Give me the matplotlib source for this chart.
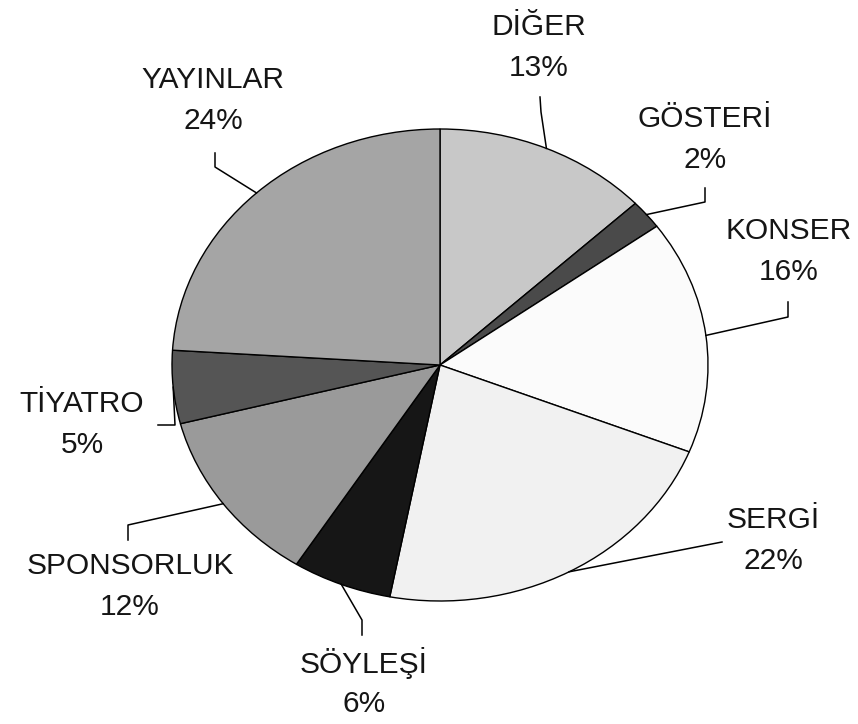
import numpy as np
import matplotlib.pyplot as plt

# Etkinlik türlerine göre dağılım (%)
etiketler = ["DİĞER", "GÖSTERİ", "KONSER", "SERGİ", "SÖYLEŞİ",
             "SPONSORLUK", "TİYATRO", "YAYINLAR"]
oranlar = [13, 2, 16, 22, 6, 12, 5, 24]
renkler = ["#c8c8c8", "#4a4a4a", "#fbfbfb", "#f1f1f1", "#161616",
           "#9a9a9a", "#555555", "#a5a5a5"]

# etiket konumları (piksel) ve bağlantı çizgisi kırılma noktaları
etiket_xy = [(539, 27), (705, 119), (789, 231), (773, 520), (364, 663),
             (130, 566), (82, 404), (213, 80)]
cizgi_noktalari = [
    [(541, 112), (540, 97)],
    [(705, 202), (705, 188)],
    [(788, 317), (788, 302)],
    [(722, 542)],
    [(362, 620), (362, 635)],
    [(128, 525), (128, 540)],
    [(175, 425), (158, 425)],
    [(215, 167), (215, 153)],
]

W, H = 858, 724
cx, cy, rx, ry = 440, 365, 268, 236

fig = plt.figure(figsize=(W / 100, H / 100), dpi=100)
fig.patch.set_facecolor("white")

# pasta eliptik görünsün diye eksen oranı serbest
ax = fig.add_axes([(cx - rx) / W, (H - cy - ry) / H, 2 * rx / W, 2 * ry / H])
ax.pie(oranlar, colors=renkler, startangle=90, counterclock=False, radius=1,
       wedgeprops=dict(edgecolor="black", linewidth=1.0))
ax.set_aspect("auto")
ax.set_xlim(-1, 1)
ax.set_ylim(-1, 1)
ax.axis("off")

# etiketler için piksel koordinatlı üst katman
ov = fig.add_axes([0, 0, 1, 1], facecolor="none")
ov.set_xlim(0, W)
ov.set_ylim(H, 0)
ov.axis("off")

kum = np.cumsum([0] + oranlar)
for i, (ad, v) in enumerate(zip(etiketler, oranlar)):
    orta = (kum[i] + kum[i + 1]) / 2 / sum(oranlar)
    aci = np.deg2rad(90 - 360 * orta)
    kx = cx + rx * np.cos(aci)
    ky = cy - ry * np.sin(aci)
    pts = [(kx, ky)] + cizgi_noktalari[i]
    ov.plot([p[0] for p in pts], [p[1] for p in pts], color="black", lw=1.1)
    tx, ty = etiket_xy[i]
    ov.text(tx, ty, ad, ha="center", va="center", fontsize=21.5,
            family="Liberation Sans", color="#151515")
    ov.text(tx, ty + 41, f"{v}%", ha="center", va="center", fontsize=21.5,
            family="Liberation Sans", color="#151515")

fig.savefig("out.png", dpi=100, facecolor="white")
